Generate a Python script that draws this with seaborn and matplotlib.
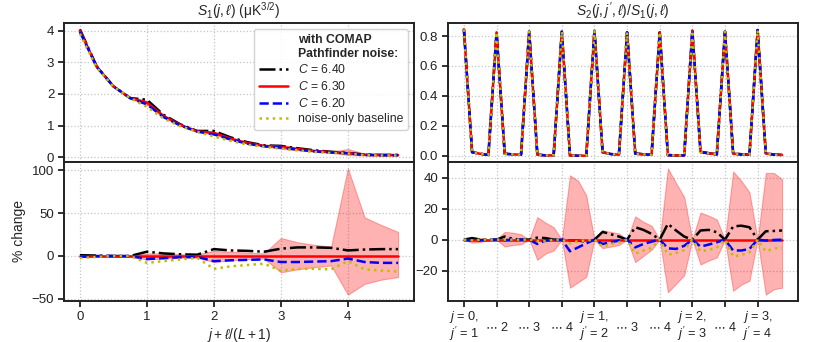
import numpy as np
import pandas as pd
import matplotlib
matplotlib.use("Agg")
import matplotlib.pyplot as plt
from matplotlib.lines import Line2D
import seaborn as sns

# ---------------- data ----------------
j_vals = [0, 1, 2, 3, 4]
L = 3  # ell = 0..L

# S1 reference (C = 6.30)
s1_ref = [4.00, 2.86, 2.24, 1.87, 1.73, 1.30, 1.02, 0.82, 0.77, 0.59,
          0.45, 0.36, 0.33, 0.26, 0.20, 0.16, 0.13, 0.08, 0.07, 0.07]
# % change relative to C = 6.30
s1_pct_640 = [1, 0.5, 0, 0, 5, 3, 2, 1.5, 8, 6.5, 6, 5, 8.5, 10, 10, 9.5, 6.5, 7.5, 8, 8]
s1_pct_620 = [-1, 0, 0, 0, -3.5, -2.5, -1.5, -1, -6, -5, -4.5, -4, -7, -7, -6.5, -6, -3, -7, -8, -8]
s1_pct_noise = [-2.5, -1, 0, 0, -8, -6, -4, -2, -15, -12, -10.5, -9, -17, -15, -15, -15.5, -6, -15.5, -17, -18]
s1_band_hi = [1, 1, 1, 1, 3, 3, 2, 2, 6, 5, 4, 3, 21, 16, 13, 11, 102, 45, 36, 28]
s1_band_lo = [-1, -1, -1, -1, -4, -3, -2, -2, -7, -5, -4, -3, -19, -15.5, -13, -11, -45, -32.5, -27.5, -24.5]

# S2/S1 reference (C = 6.30), 10 (j, j') pairs x 4 ell
s2_ref = [0.845, 0.023, 0.013, 0.005,
          0.825, 0.013, 0.009, 0.007,
          0.830, 0.007, 0.002, 0.002,
          0.830, 0.002, 0.000, 0.000,
          0.835, 0.022, 0.011, 0.007,
          0.825, 0.014, 0.009, 0.007,
          0.825, 0.004, 0.002, 0.002,
          0.835, 0.025, 0.016, 0.009,
          0.830, 0.014, 0.009, 0.007,
          0.840, 0.016, 0.007, 0.005]
s2_pct_640 = [0, 1, 0, 0,
              0, 2, 0.5, 0,
              0, 1.3, 1, 0,
              0, -0.5, -0.6, -1.3,
              0, 5, 3.5, 2,
              0, 8, 6.3, 3.7,
              0, 10.2, 5.9, 2,
              0, 5.9, 6.3, 4.8,
              0, 8.5, 9, 8,
              0, 5.4, 5.6, 5.9]
s2_pct_620 = [0, -0.6, -0.4, 0,
              0, -0.3, 0, 0,
              0, -2.8, -0.6, -0.2,
              0, -7.5, -5, -2.4,
              0, -2.8, -1.7, -0.6,
              0, -5, -2.8, -1.3,
              0, -5.6, -6, -4,
              0, -4.5, -3.2, -1.7,
              0, -7, -7, -6,
              0, -0.6, -0.2, 0]
s2_pct_noise = [0, -0.5, 0, 0,
                0, 0, 0, 0,
                0, -1, -1, 0,
                0, -2.4, -1, -0.6,
                0, -4.5, -2.8, -1.7,
                0, -9, -7, -5.4,
                0, -9.7, -8.6, -6.7,
                0, -7.6, -6.7, -5,
                0, -10.8, -9.9, -8.2,
                0, -7.6, -5.6, -5.4]
s2_band_hi = [0, 1.7, 1, 0.5,
              0, 5, 4.5, 3.5,
              0, 14.5, 11, 8,
              0, 41.5, 38, 28.5,
              0, 6, 5, 4,
              0, 15, 11.5, 9,
              0, 46, 36.5, 27.5,
              0, 17.5, 15.5, 13,
              0, 44, 38, 30.5,
              0, 43, 43, 39]
s2_band_lo = [0, -2, -1.5, -0.5,
              0, -4.5, -3.5, -3,
              0, -13, -9, -7,
              0, -31, -27.5, -24,
              0, -5.5, -4.5, -3.5,
              0, -14.5, -10.5, -6.5,
              0, -34, -28.5, -23,
              0, -16, -13.5, -11.5,
              0, -33, -29, -26.5,
              0, -35.5, -32, -31]

pair_tick_labels = ["$j$ = 0,\n$j'$ = 1", "\n$\\cdots$ 2", "\n$\\cdots$ 3", "\n$\\cdots$ 4",
                    "$j$ = 1,\n$j'$ = 2", "\n$\\cdots$ 3", "\n$\\cdots$ 4",
                    "$j$ = 2,\n$j'$ = 3", "\n$\\cdots$ 4",
                    "$j$ = 3,\n$j'$ = 4"]

series_labels = ["$C$ = 6.40", "$C$ = 6.30", "$C$ = 6.20", "noise-only baseline"]
legend_title = "with COMAP\nPathfinder noise:"

# ---------------- style ----------------
sns.set_theme(style="ticks")
plt.rcParams.update({
    "font.family": ["Liberation Sans", "DejaVu Sans"],
    "mathtext.fontset": "custom",
    "mathtext.rm": "Liberation Sans",
    "mathtext.it": "Liberation Sans:italic",
    "mathtext.sf": "Liberation Sans",
    "font.size": 9.5,
    "axes.linewidth": 1.4,
    "axes.edgecolor": "#222222",
    "xtick.major.size": 4.5,
    "ytick.major.size": 4.5,
    "xtick.major.width": 1.3,
    "ytick.major.width": 1.3,
    "xtick.major.pad": 2.5,
    "ytick.major.pad": 2.5,
    "xtick.labelsize": 9.5,
    "ytick.labelsize": 9.5,
    "xtick.color": "#222222",
    "ytick.color": "#222222",
    "axes.unicode_minus": True,
})

RED, BLUE, YEL, BLK = "#ff0000", "#0000ff", "#bfbf00", "#000000"
styles = [dict(color=BLK, linestyle="-."),
          dict(color=RED, linestyle="-"),
          dict(color=BLUE, linestyle="--"),
          dict(color=YEL, linestyle=":")]
LW = 1.8

W, H = 814, 342
fig = plt.figure(figsize=(W / 100, H / 100), dpi=100)

def frac(x0, y0, x1, y1):
    return [x0 / W, 1 - y1 / H, (x1 - x0) / W, (y1 - y0) / H]

axL_top = fig.add_axes(frac(64, 23, 414, 162))
axL_bot = fig.add_axes(frac(64, 162, 414, 301), sharex=axL_top)
axR_top = fig.add_axes(frac(448, 23, 798, 162))
axR_bot = fig.add_axes(frac(448, 162, 798, 301), sharex=axR_top)

x_left = np.array([j + l / (L + 1) for j in j_vals for l in range(L + 1)])
x_right = np.arange(len(s2_ref))


def draw(ax_top, ax_bot, x, ref, pcts, band_lo, band_hi):
    ref = np.asarray(ref, float)
    band_lo = np.asarray(band_lo, float)
    band_hi = np.asarray(band_hi, float)
    ax_top.fill_between(x, ref * (1 + band_lo / 100), ref * (1 + band_hi / 100),
                        color=RED, alpha=0.3, lw=0.8, zorder=1)
    ax_bot.fill_between(x, band_lo, band_hi, color=RED, alpha=0.3, lw=0.8, zorder=1)
    for pct, st, lab in zip(pcts, styles, series_labels):
        pct = np.asarray(pct, float)
        df = pd.DataFrame({"x": x, "top": ref * (1 + pct / 100), "pct": pct})
        sns.lineplot(data=df, x="x", y="top", ax=ax_top, lw=LW, label=lab,
                     legend=False, zorder=3, **st)
        sns.lineplot(data=df, x="x", y="pct", ax=ax_bot, lw=LW, legend=False,
                     zorder=3, **st)
    for ax in (ax_top, ax_bot):
        ax.grid(True, linestyle=":", color="#c4c4c4", lw=0.9)
        ax.set_xlabel("")
        ax.set_ylabel("")
        ax.margins(x=0.05, y=0.05)
    ax_top.tick_params(axis="x", length=0, labelbottom=False)


zeros_l = [0] * len(s1_ref)
draw(axL_top, axL_bot, x_left, s1_ref,
     [s1_pct_640, zeros_l, s1_pct_620, s1_pct_noise], s1_band_lo, s1_band_hi)
zeros_r = [0] * len(s2_ref)
draw(axR_top, axR_bot, x_right, s2_ref,
     [s2_pct_640, zeros_r, s2_pct_620, s2_pct_noise], s2_band_lo, s2_band_hi)

# left axes
axL_top.set_yticks([0, 1, 2, 3, 4])
axL_bot.set_yticks([-50, 0, 50, 100])
axL_bot.set_xticks(j_vals)
axL_top.set_title("$S_1(j,\\ell)$ (μK$^{3/2}$)", fontsize=10, pad=5)
axL_bot.set_xlabel("$j + \\ell/(L+1)$", fontsize=10, labelpad=2)
axL_bot.set_ylabel("% change", fontsize=10, labelpad=4)

# right axes
axR_top.set_yticks([0.0, 0.2, 0.4, 0.6, 0.8])
axR_top.yaxis.set_major_formatter(matplotlib.ticker.FormatStrFormatter("%.1f"))
axR_bot.set_yticks([-20, 0, 20, 40])
axR_bot.set_xticks(np.arange(0, len(s2_ref), L + 1))
axR_bot.set_xticklabels(pair_tick_labels, linespacing=0.95, fontsize=9.2)
axR_bot.tick_params(axis="x", pad=1.5)
axR_top.set_title("$S_2(j,j',\\ell)/S_1(j,\\ell)$", fontsize=10, pad=5)

# legend
dummy = Line2D([], [], color="none")
handles = [dummy] + axL_top.get_lines()[:4]
labels = [legend_title] + series_labels
leg = axL_top.legend(handles, labels, loc="upper right", fontsize=8.8,
                     handlelength=2.4, handletextpad=0.8, labelspacing=0.3,
                     borderpad=0.4, framealpha=0.85, edgecolor="#cccccc")
t0 = leg.get_texts()[0]
t0.set_fontweight("bold")
t0.set_multialignment("left")

fig.savefig("out.png", dpi=100)
